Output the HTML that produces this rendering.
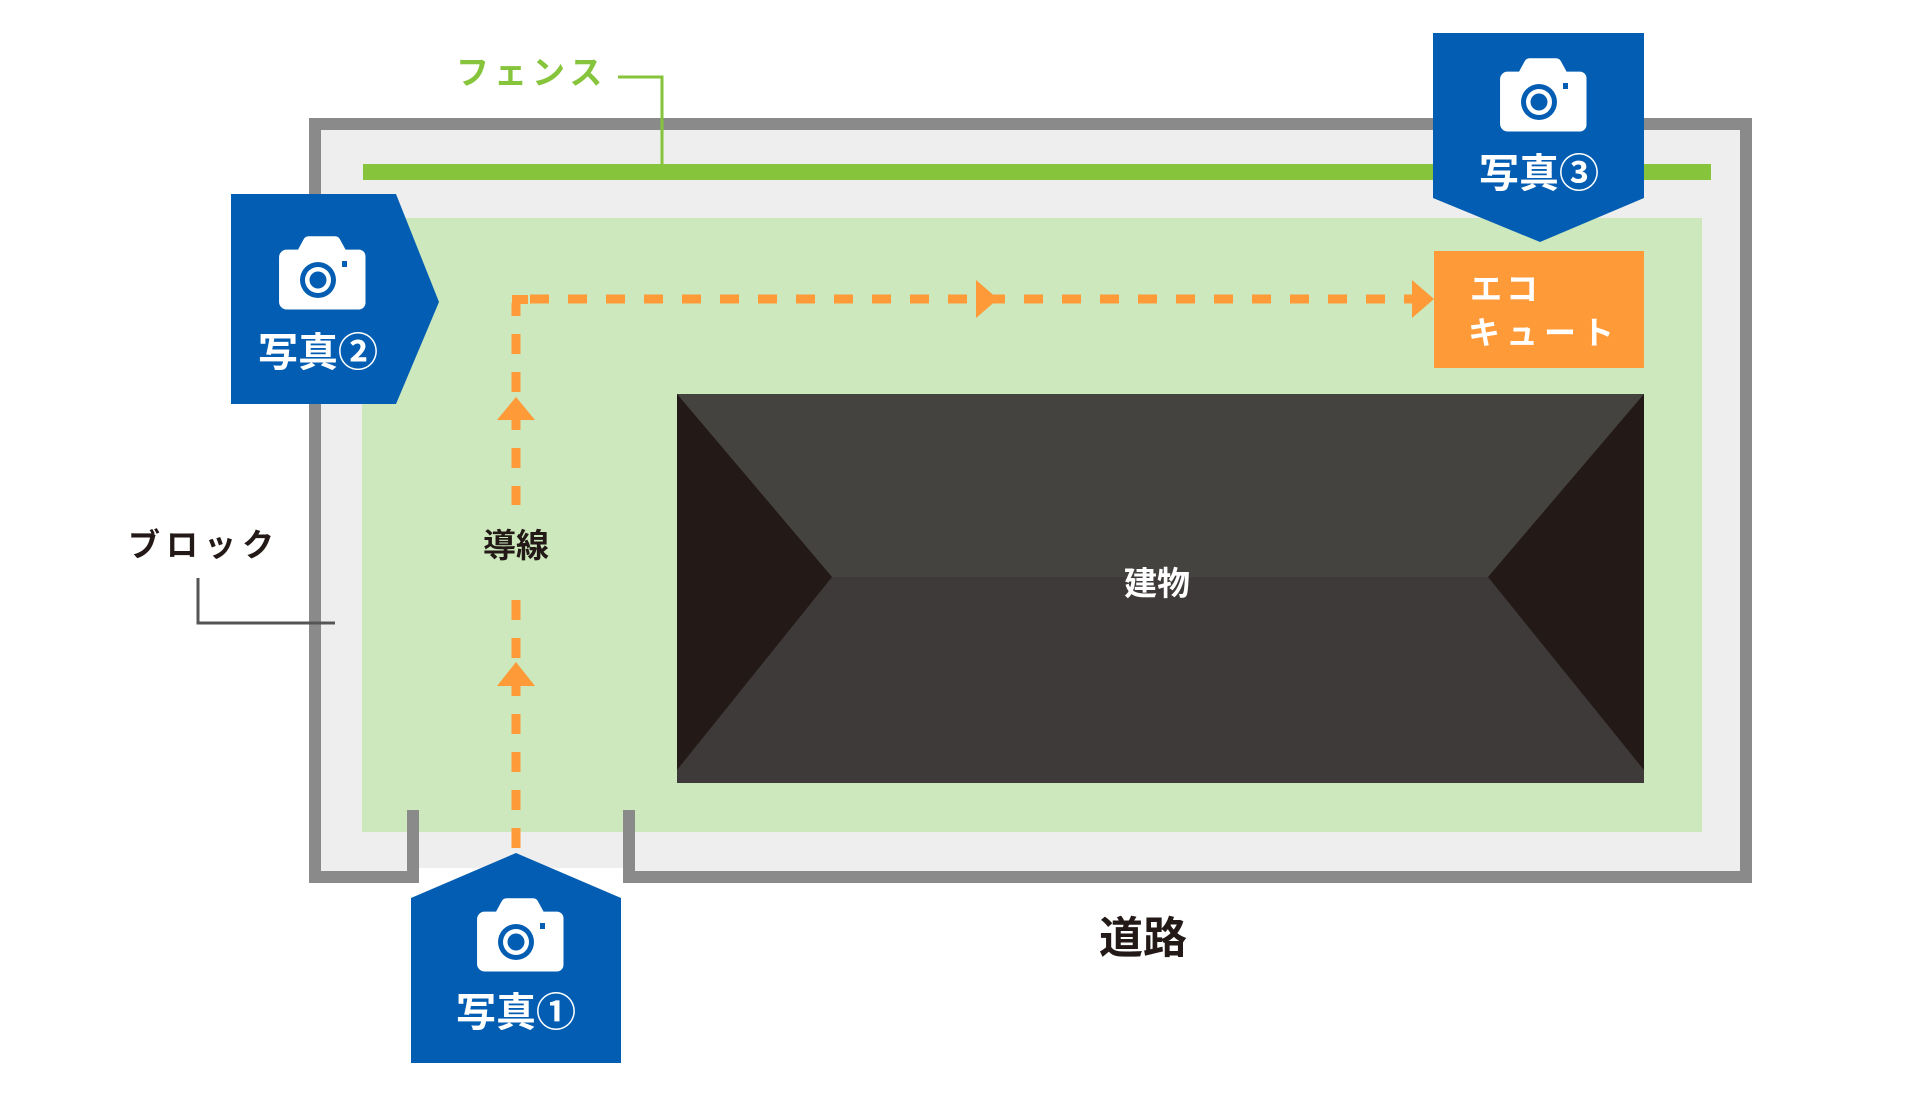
<!DOCTYPE html>
<html><head><meta charset="utf-8"><style>
html,body{margin:0;padding:0;background:#fff;width:1920px;height:1094px;overflow:hidden}
svg{display:block}
text{font-family:"Liberation Sans","Noto Sans CJK JP",sans-serif;font-weight:bold}
</style></head><body>
<svg width="1920" height="1094" viewBox="0 0 1920 1094" xmlns="http://www.w3.org/2000/svg">
<defs>
<g id="cam">
<path d="M-41,-24 a8,8 0 0 1 8,-8 h12 l6,-11 a6,6 0 0 1 5,-3 h28 a6,6 0 0 1 5,3 l6,11 h14 a7,7 0 0 1 7,7 v49 a7,7 0 0 1 -7,7 h-76 a8,8 0 0 1 -8,-8 z" fill="#fff" transform="scale(0.95)"/>
<circle cx="0" cy="0" r="18" fill="#035eb3"/>
<circle cx="0" cy="0" r="13" fill="#fff"/>
<circle cx="0" cy="0" r="8.5" fill="#035eb3"/>
<rect x="24" y="-19" width="5" height="6" fill="#035eb3"/>
</g>
</defs>
<rect x="315" y="124" width="1431" height="753" fill="#eeeeee" stroke="#8a8a8a" stroke-width="12"/>
<rect x="419" y="868" width="204" height="20" fill="#fff"/>
<rect x="407" y="810" width="12" height="73" fill="#8a8a8a"/>
<rect x="623" y="810" width="12" height="73" fill="#8a8a8a"/>
<rect x="362" y="218" width="1340" height="614" fill="#cce8bc"/>
<rect x="407" y="810" width="12" height="22" fill="#8a8a8a"/>
<rect x="623" y="810" width="12" height="22" fill="#8a8a8a"/>
<rect x="363" y="164" width="1348" height="16" fill="#86c43b"/>
<polyline points="618,77 662,77 662,165" fill="none" stroke="#86c43b" stroke-width="3"/>
<text x="456" y="84" font-size="33" fill="#86c43b" letter-spacing="5">フェンス</text>
<text x="128" y="556" font-size="32" fill="#231917" letter-spacing="6">ブロック</text>
<polyline points="198,578 198,623 335,623" fill="none" stroke="#555" stroke-width="3"/>
<rect x="677" y="394" width="967" height="389" fill="#3e3a39"/>
<polygon points="677,394 1644,394 1488,577 832,577" fill="#45433f"/>
<polygon points="677,394 832,577 677,770" fill="#231917"/>
<polygon points="1644,394 1488,577 1644,770" fill="#231917"/>
<text x="1157" y="595" font-size="33" fill="#fff" text-anchor="middle">建物</text>
<line x1="516" y1="848" x2="516" y2="303" stroke="#ff9a38" stroke-width="9" stroke-dasharray="20,18"/>
<rect x="512" y="295" width="16" height="9" fill="#ff9a38"/>
<line x1="530" y1="299" x2="1415" y2="299" stroke="#ff9a38" stroke-width="9" stroke-dasharray="19,19"/>
<polygon points="497,686 535,686 516,662" fill="#ff9a38"/>
<polygon points="497,420 535,420 516,397" fill="#ff9a38"/>
<polygon points="976,280 976,318 998,299" fill="#ff9a38"/>
<polygon points="1412,280 1412,318 1434,299" fill="#ff9a38"/>
<rect x="478" y="505" width="76" height="88" fill="#cce8bc"/>
<text x="516" y="557" font-size="33" fill="#231917" text-anchor="middle">導線</text>
<rect x="1434" y="251" width="210" height="117" fill="#ff9a38"/>
<text x="1470" y="300" font-size="32" fill="#fff" letter-spacing="4">エコ</text>
<text x="1468" y="344" font-size="32" fill="#fff" letter-spacing="6">キュート</text>
<polygon points="231,194 396,194 439,302 396,404 231,404" fill="#035eb3"/>
<use href="#cam" x="318" y="280"/>
<text x="318" y="366" font-size="40" fill="#fff" text-anchor="middle">写真②</text>
<polygon points="1433,33 1644,33 1644,198 1540,242 1433,198" fill="#035eb3"/>
<use href="#cam" x="1539" y="102"/>
<text x="1539" y="187" font-size="40" fill="#fff" text-anchor="middle">写真③</text>
<polygon points="411,898 516,853 621,898 621,1063 411,1063" fill="#035eb3"/>
<use href="#cam" x="516" y="942"/>
<text x="516" y="1026" font-size="40" fill="#fff" text-anchor="middle">写真①</text>
<text x="1143" y="953" font-size="44" fill="#231917" text-anchor="middle">道路</text>
</svg>
</body></html>
